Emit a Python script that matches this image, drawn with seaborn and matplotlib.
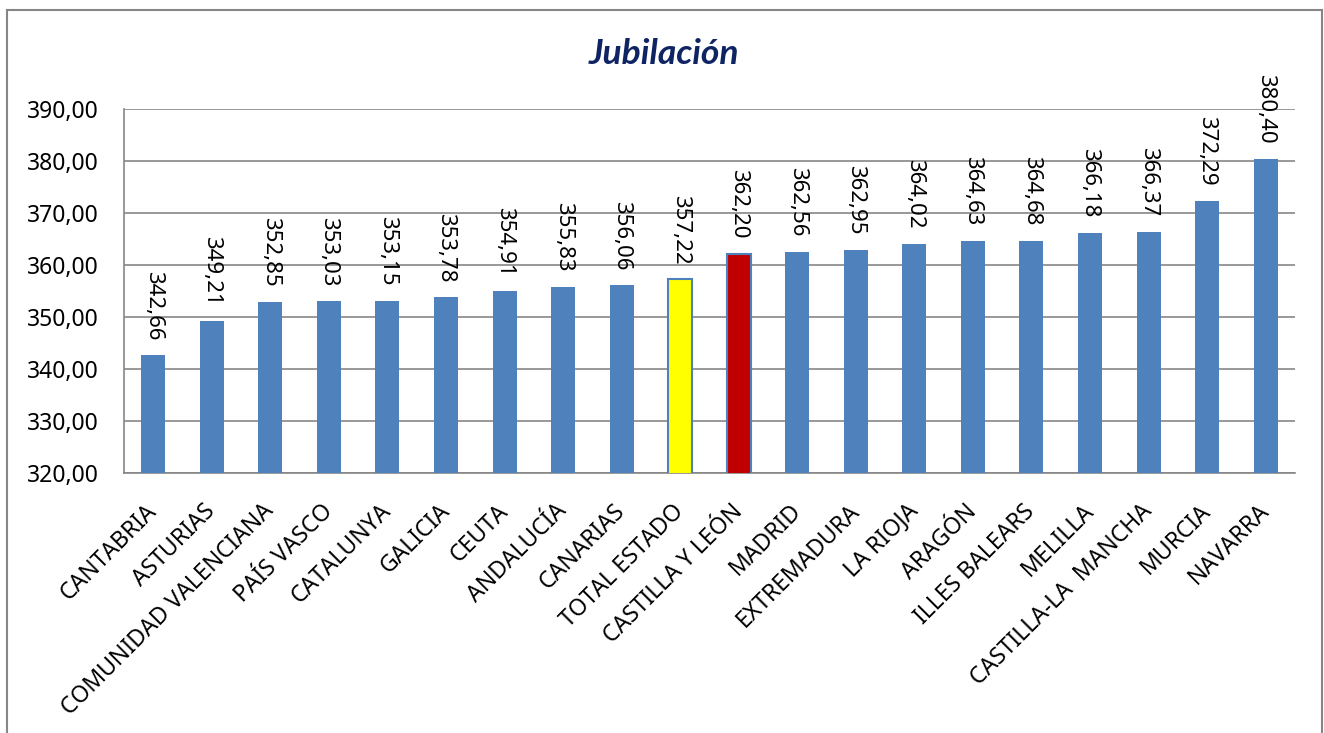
import matplotlib
matplotlib.use("Agg")
import matplotlib.pyplot as plt
from matplotlib.patches import Rectangle
from matplotlib.transforms import ScaledTranslation
import pandas as pd
import seaborn as sns

# data
regions = ["CANTABRIA", "ASTURIAS", "COMUNIDAD VALENCIANA", "PAÍS VASCO", "CATALUNYA",
           "GALICIA", "CEUTA", "ANDALUCÍA", "CANARIAS", "TOTAL ESTADO",
           "CASTILLA Y LEÓN", "MADRID", "EXTREMADURA", "LA RIOJA", "ARAGÓN",
           "ILLES BALEARS", "MELILLA", "CASTILLA-LA  MANCHA", "MURCIA", "NAVARRA"]
values = [342.66, 349.21, 352.85, 353.03, 353.15,
          353.78, 354.91, 355.83, 356.06, 357.22,
          362.20, 362.56, 362.95, 364.02, 364.63,
          364.68, 366.18, 366.37, 372.29, 380.40]
y_ticks = [320, 330, 340, 350, 360, 370, 380, 390]

BLUE = "#4F81BD"
highlight = {"TOTAL ESTADO": "#FFFF00", "CASTILLA Y LEÓN": "#C00000"}
colors = [highlight.get(r, BLUE) for r in regions]

df = pd.DataFrame({"region": regions, "value": values})

sns.set_style("white")
plt.rcParams["font.family"] = ["Noto Sans", "DejaVu Sans"]
plt.rcParams["text.color"] = "black"
plt.rcParams["xtick.color"] = "black"
plt.rcParams["ytick.color"] = "black"

fig = plt.figure(figsize=(13.24, 7.33), dpi=100)
ax = fig.add_axes([0.0937, 0.3547, 0.8843, 0.4966])

sns.barplot(data=df, x="region", y="value", hue="region", palette=colors,
            legend=False, width=0.41, saturation=1, ax=ax, zorder=3)

for patch, r in zip(ax.patches, regions):
    if r in highlight:
        patch.set_edgecolor(BLUE)
        patch.set_linewidth(1.5)
    else:
        patch.set_edgecolor("none")

for container in ax.containers:
    ax.bar_label(container,
                 labels=[f"{v:.2f}".replace(".", ",") for v in container.datavalues],
                 rotation=-90, padding=11, fontsize=16, color="black", zorder=4)

ax.set_ylim(320, 390)
ax.set_yticks(y_ticks)
ax.set_yticklabels([f"{t:.2f}".replace(".", ",") for t in y_ticks], fontsize=16.5)
ax.set_xlim(-0.5, len(regions) - 0.5)
ax.set_xticks(range(len(regions)))
ax.set_xticklabels(regions, rotation=45, ha="right", rotation_mode="anchor", fontsize=16.5)
ax.tick_params(axis="both", length=0)
ax.tick_params(axis="y", pad=18)
ax.tick_params(axis="x", pad=19)
shift = ScaledTranslation(-6 / 72, 0, fig.dpi_scale_trans)
for lbl in ax.get_xticklabels():
    lbl.set_transform(lbl.get_transform() + shift)
ax.set_xlabel("")
ax.set_ylabel("")

ax.yaxis.grid(True, color="#868686", linewidth=1.2, zorder=0)
ax.set_axisbelow(True)
for side in ["top", "right"]:
    ax.spines[side].set_visible(False)
for side in ["left", "bottom"]:
    ax.spines[side].set_color("#868686")
    ax.spines[side].set_linewidth(1.2)

# title in a family that has a bold italic face
fig.text(0.5015, 0.926, "Jubilación", ha="center", va="center", fontsize=25.5,
         family=["Lato", "DejaVu Sans"], fontweight="bold", fontstyle="italic",
         color="#0F2463")

fig.patches.append(Rectangle((0.0053, -0.02), 0.9932, 1.0064, transform=fig.transFigure,
                             fill=False, edgecolor="#868686", linewidth=1.5))

fig.savefig("out.png", dpi=100)
